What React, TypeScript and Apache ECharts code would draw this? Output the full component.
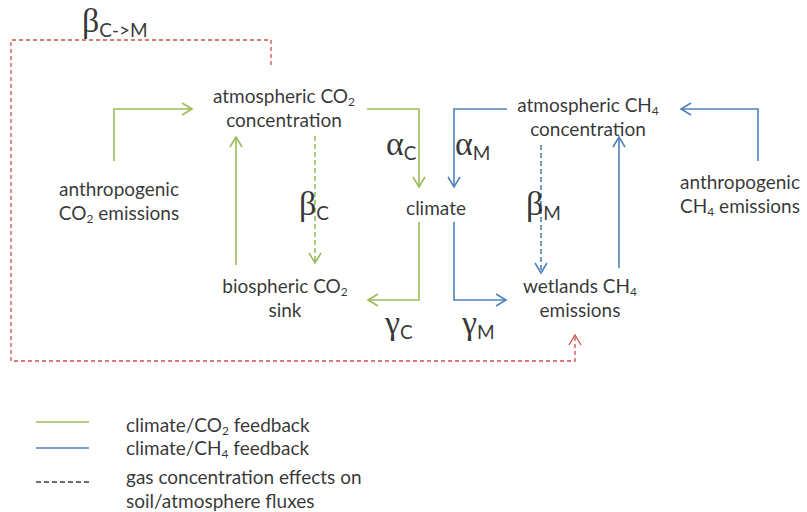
import React, { useEffect, useRef } from "react";
import * as echarts from "echarts";

// ---- diagram data (diagram coordinates: 0..807 across, 0..512 down) ----
const GREEN = "#9BBB59";
const BLUE = "#4F81BD";
const RED = "#C9504D";
const GRAY = "#404040";

// connector routes (each a list of [x, y] points); arrow head at last point
const EDGE_POINTS: number[][][] = [
  [[114, 161], [114, 109], [192, 109]],        // anthropogenic CO2 -> atm CO2
  [[236, 265], [236, 137]],                    // biospheric sink -> atm CO2
  [[315, 136], [315, 263]],                    // beta_C (dashed)
  [[367, 109], [419, 109], [419, 187]],        // alpha_C
  [[507, 109], [454, 109], [454, 187]],        // alpha_M
  [[419, 222], [419, 300], [368, 300]],        // gamma_C
  [[454, 222], [454, 300], [506, 300]],        // gamma_M
  [[541, 145], [541, 273]],                    // beta_M (dashed)
  [[619, 268], [619, 137]],                    // wetlands -> atm CH4
  [[758, 161], [758, 109], [681, 109]],        // anthropogenic CH4 -> atm CH4
  [[271, 65], [271, 40], [11, 40], [11, 361], [575, 361], [575, 335]], // beta_C->M
  [[36, 422], [89, 422]],                      // legend CO2
  [[36, 448], [89, 448]],                      // legend CH4
  [[36, 482], [89, 482]],                      // legend gas
];
const EDGE_KIND: string[] = ["co2", "co2", "co2", "co2", "ch4", "co2", "ch4", "ch4", "ch4", "ch4", "cross", "co2", "ch4", "gas"];
const EDGE_DASHED: boolean[] = [false, false, true, false, false, false, false, true, false, false, true, false, false, true];
const EDGE_ARROW: boolean[] = [true, true, true, true, true, true, true, true, true, true, true, false, false, false];

const KIND_COLOR: Record<string, string> = { co2: GREEN, ch4: BLUE, cross: RED, gas: GRAY };

// node and annotation texts
const NODE_TEXT: string[] = [
  "atmospheric CO{sub|2}\nconcentration",
  "anthropogenic\nCO{sub|2} emissions",
  "biospheric CO{sub|2}\nsink",
  "climate",
  "atmospheric CH{sub|4}\nconcentration",
  "anthropogenic\nCH{sub|4} emissions",
  "wetlands CH{sub|4}\nemissions",
];
const NODE_POS: number[][] = [
  [284, 107], [119, 200], [285, 297], [436, 207], [588, 116], [740, 193], [580, 297],
];

const GREEK_TEXT: string[] = [
  "{g|α}{gs|C}", "{g|α}{gs|M}", "{g|β}{gs|C}", "{g|β}{gs|M}",
  "{g|γ}{gs|C}", "{g|γ}{gs|M}", "{g|β}{gs|C->M}",
];
const GREEK_POS: number[][] = [
  [386, 143], [455, 143], [299, 203], [526, 203], [385, 322], [462, 322], [82, 20],
];

const LEGEND_TEXT: string[] = [
  "climate/CO{sub|2} feedback",
  "climate/CH{sub|4} feedback",
  "gas concentration effects on\nsoil/atmosphere fluxes",
];
const LEGEND_POS: number[][] = [[126, 424], [126, 447], [126, 488]];

const FONT = "Lato";

export default function App() {
  const ref = useRef<HTMLDivElement>(null);
  useEffect(() => {
    if (!ref.current) return;
    const chart = echarts.init(ref.current, null, { renderer: "svg" });

    const richBase = {
      sub: { fontFamily: FONT, fontSize: 12, lineHeight: 16, verticalAlign: "bottom", color: "#000" },
      g: { fontFamily: "Liberation Serif", fontSize: 34, lineHeight: 50, color: "#000" },
      gs: { fontFamily: FONT, fontSize: 19, lineHeight: 20, padding: [18, 0, 0, 0], color: "#000" },
    };

    const textSeries = (texts: string[], pos: number[][], align: string) => ({
      type: "scatter",
      silent: true,
      symbolSize: 1,
      itemStyle: { color: "transparent" },
      data: texts.map((t, i) => ({ value: pos[i], name: t })),
      label: {
        show: true,
        position: "inside",
        align,
        verticalAlign: "middle",
        formatter: (p: any) => p.name,
        fontFamily: FONT,
        fontSize: 19,
        lineHeight: 24,
        color: "#000",
        rich: richBase,
      },
      z: 5,
    });

    chart.setOption({
      animation: false,
      backgroundColor: "#ffffff",
      grid: { left: 0, right: 0, top: 0, bottom: 0 },
      xAxis: { type: "value", min: 0, max: 807, show: false },
      yAxis: { type: "value", min: 0, max: 512, inverse: true, show: false },
      series: [
        {
          type: "custom",
          silent: true,
          clip: false,
          data: EDGE_POINTS.map((pts) => pts[0]),
          renderItem: (params: any, api: any) => {
            const i = params.dataIndex;
            const pts = EDGE_POINTS[i].map((p) => api.coord(p));
            const color = KIND_COLOR[EDGE_KIND[i]];
            const dashed = EDGE_DASHED[i];
            const width = EDGE_KIND[i] === "cross" || EDGE_KIND[i] === "gas" ? 1.3 : 1.6;
            const children: any[] = [
              {
                type: "polyline",
                shape: { points: pts },
                style: {
                  stroke: color,
                  lineWidth: width,
                  fill: "none",
                  lineDash: dashed ? (EDGE_KIND[i] === "cross" ? [4, 3] : [5, 3]) : null,
                },
              },
            ];
            if (EDGE_ARROW[i]) {
              const a = pts[pts.length - 2];
              const b = pts[pts.length - 1];
              const dx = b[0] - a[0];
              const dy = b[1] - a[1];
              const len = Math.sqrt(dx * dx + dy * dy) || 1;
              const ux = dx / len;
              const uy = dy / len;
              const L = 10;
              const W = 6;
              children.push({
                type: "polyline",
                shape: {
                  points: [
                    [b[0] - ux * L - uy * W, b[1] - uy * L + ux * W],
                    [b[0], b[1]],
                    [b[0] - ux * L + uy * W, b[1] - uy * L - ux * W],
                  ],
                },
                style: { stroke: color, lineWidth: width, fill: "none" },
              });
            }
            return { type: "group", children };
          },
          z: 2,
        },
        textSeries(NODE_TEXT, NODE_POS, "center"),
        textSeries(GREEK_TEXT, GREEK_POS, "left"),
        textSeries(LEGEND_TEXT, LEGEND_POS, "left"),
      ],
    });
    return () => chart.dispose();
  }, []);

  return (
    <div
      ref={ref}
      style={{ position: "absolute", left: 0, top: 0, width: 807, height: 512, background: "#fff" }}
    />
  );
}
